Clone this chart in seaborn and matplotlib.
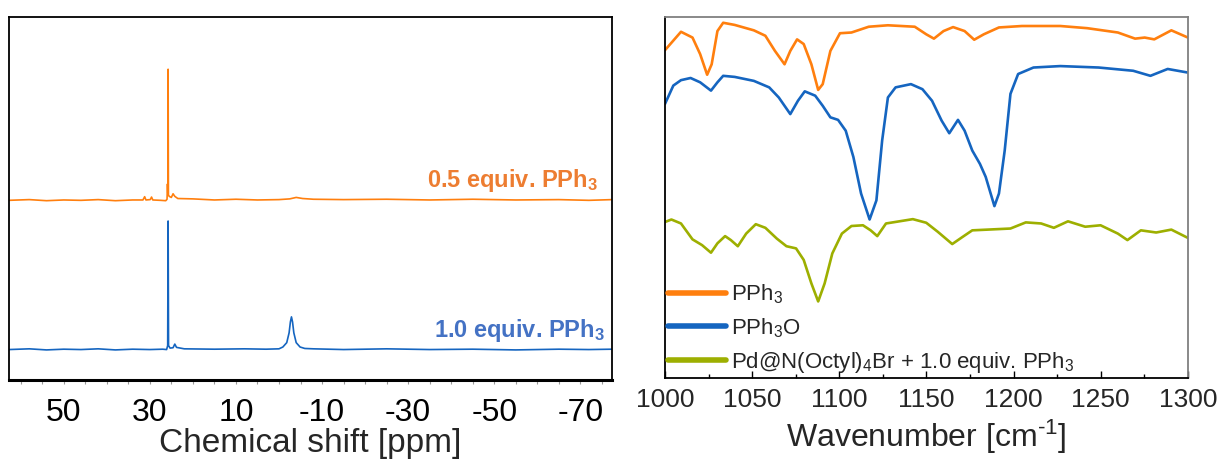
import matplotlib
matplotlib.use("Agg")
import matplotlib.pyplot as plt
import seaborn as sns
import pandas as pd
from matplotlib.ticker import MultipleLocator

# ---------------- data: 31P NMR (left) ----------------
ppm_05 = [62.7, 58, 54, 50, 46, 42, 38, 34, 31.6, 31.2, 30.9, 29.9, 29.6, 29.3, 27.5, 26.3, 26.0,
          25.9, 25.82, 25.75, 25.68, 25.5, 25.0, 24.6, 24.2, 23.5, 20, 15, 10, 5, 0, -2.5, -4,
          -5.5, -8, -15, -25, -35, -45, -55, -65, -72, -77.4]
int_05 = [49.5, 49.7, 49.4, 49.6, 49.5, 49.7, 49.4, 49.6, 49.6, 50.5, 49.6, 49.7, 50.4, 49.6, 49.5,
          49.4, 49.8, 54.0, 51.5, 85.6, 51.0, 50.6, 50.3, 51.3, 50.6, 50.0, 49.9, 49.6, 49.8, 49.6,
          49.7, 49.9, 50.3, 50.0, 49.8, 49.7, 49.8, 49.6, 49.8, 49.6, 49.7, 49.5, 49.7]
ppm_10 = [62.7, 58, 54, 50, 46, 42, 38, 34, 30, 27, 26.1, 25.85, 25.75, 25.65, 25.3, 24.6, 24.2,
          23.8, 22, 15, 8, 3, 0, -0.9, -1.8, -2.35, -2.65, -2.9, -3.15, -3.45, -4.0, -4.9, -6,
          -8, -15, -25, -35, -45, -55, -65, -72, -77.4]
int_10 = [8.4, 8.6, 8.3, 8.5, 8.4, 8.6, 8.3, 8.5, 8.4, 8.5, 8.4, 9.5, 43.8, 9.5, 8.8, 8.9, 9.9,
          9.0, 8.6, 8.5, 8.6, 8.5, 8.6, 9.1, 10.3, 13.0, 16.0, 17.4, 16.0, 13.0, 10.3, 9.1, 8.7,
          8.6, 8.4, 8.6, 8.4, 8.5, 8.3, 8.5, 8.4, 8.5]
nmr_ticks = [50, 30, 10, -10, -30, -50, -70]

# ---------------- data: IR (right) ----------------
wn_pph3 = [1000, 1009.2, 1015.8, 1020.2, 1024.2, 1026.8, 1030.1, 1033.4, 1040.0, 1051.0, 1057.6,
           1063.1, 1068.6, 1071.9, 1075.8, 1079.6, 1084.0, 1087.9, 1090.5, 1094.9, 1100.4, 1107.0,
           1116.9, 1127.9, 1143.3, 1149.9, 1154.3, 1159.8, 1165.3, 1171.9, 1177.4, 1182.9, 1191.6,
           1204.8, 1226.8, 1242.2, 1259.8, 1269.7, 1275.2, 1280.7, 1290.5, 1300]
t_pph3 = [90.8, 95.9, 94.3, 89.7, 84.0, 86.9, 96.1, 98.4, 97.8, 96.3, 94.8, 90.6, 86.9, 90.6, 93.8,
          92.5, 86.9, 79.8, 81.4, 90.6, 95.5, 95.7, 97.3, 97.7, 97.3, 95.2, 94.0, 96.1, 97.2, 96.1,
          93.7, 95.2, 97.1, 97.5, 97.5, 96.9, 95.7, 94.0, 94.3, 93.8, 96.3, 94.3]
wn_pph3o = [1000, 1004.8, 1009.2, 1014.7, 1020.2, 1026.4, 1030.1, 1033.4, 1040.0, 1051.0, 1059.8,
            1065.3, 1071.9, 1076.3, 1080.2, 1086.2, 1090.5, 1094.9, 1099.3, 1103.7, 1108.1, 1112.5,
            1117.4, 1121.3, 1124.6, 1127.9, 1132.3, 1141.1, 1147.7, 1153.2, 1158.7, 1163.1, 1168.1,
            1171.9, 1176.3, 1180.7, 1184.0, 1189.0, 1191.6, 1194.9, 1198.2, 1202.6, 1211.4, 1226.8,
            1248.8, 1268.6, 1278.5, 1288.4, 1300]
t_pph3o = [75.9, 81.0, 82.5, 83.1, 81.9, 79.6, 81.9, 83.7, 83.4, 82.3, 80.5, 77.7, 73.1, 76.8, 79.4,
           78.2, 75.4, 72.2, 71.5, 68.5, 61.2, 51.1, 43.9, 49.2, 65.8, 77.7, 80.5, 81.4, 80.0, 76.8,
           71.3, 67.8, 71.5, 68.5, 63.0, 59.3, 55.7, 47.6, 51.1, 63.0, 78.7, 84.2, 86.0, 86.4, 86.0,
           85.1, 83.7, 85.6, 84.6]
wn_pd = [1000, 1003.7, 1009.2, 1015.8, 1021.3, 1026.4, 1030.1, 1034.5, 1037.8, 1041.8, 1046.6,
         1052.1, 1057.6, 1064.2, 1069.7, 1075.2, 1079.6, 1084.0, 1087.9, 1091.6, 1096.0, 1101.5,
         1107.0, 1113.6, 1118.0, 1121.8, 1126.8, 1134.5, 1142.2, 1149.9, 1156.5, 1164.8, 1170.8,
         1176.3, 1185.1, 1198.2, 1207.0, 1215.8, 1223.1, 1231.2, 1241.1, 1249.9, 1259.8, 1265.3,
         1273.0, 1281.8, 1290.5, 1300]
t_pd = [43.2, 43.9, 42.8, 38.4, 36.8, 34.7, 37.3, 39.3, 38.2, 36.5, 40.0, 42.6, 41.6, 38.6, 36.5,
        35.9, 32.7, 26.2, 21.2, 26.2, 34.5, 40.0, 42.1, 42.3, 40.9, 39.3, 42.8, 43.4, 44.0, 43.0,
        40.5, 37.1, 39.1, 40.9, 41.1, 41.4, 43.1, 42.8, 41.6, 43.4, 41.9, 42.3, 40.0, 38.2, 40.9,
        40.3, 41.1, 38.8]
ir_labels = ["PPh$_3$", "PPh$_3$O", "Pd@N(Octyl)$_4$Br + 1.0 equiv. PPh$_3$"]
ir_ticks = [1000, 1050, 1100, 1150, 1200, 1250, 1300]

# ---------------- style ----------------
sns.set_theme(style="white")
plt.rcParams["font.family"] = ["Liberation Sans", "DejaVu Sans"]
plt.rcParams["mathtext.fontset"] = "custom"
plt.rcParams["mathtext.rm"] = "Liberation Sans"
plt.rcParams["mathtext.it"] = "Liberation Sans:italic"
plt.rcParams["mathtext.bf"] = "Liberation Sans:bold"

C_OR = "#FF7F0E"
C_BL = "#1565C0"
C_GR = "#9DAF00"

fig = plt.figure(figsize=(12.21, 4.59), dpi=100)
axL = fig.add_axes([0.0074, 0.172, 0.494, 0.791])
axR = fig.add_axes([0.5446, 0.1765, 0.4283, 0.7865])

# ---- left: NMR ----
dfa = pd.DataFrame({"ppm": ppm_05, "I": int_05})
dfb = pd.DataFrame({"ppm": ppm_10, "I": int_10})
sns.lineplot(data=dfa, x="ppm", y="I", ax=axL, color=C_OR, lw=1.2, estimator=None, sort=False)
sns.lineplot(data=dfb, x="ppm", y="I", ax=axL, color=C_BL, lw=1.2, estimator=None, sort=False)
axL.set_xlim(62.7, -77.4)
axL.set_ylim(0, 100)
axL.set_yticks([])
axL.set_ylabel("")
axL.set_xticks(nmr_ticks)
axL.set_xticklabels([str(t) for t in nmr_ticks])
axL.xaxis.set_minor_locator(MultipleLocator(5))
axL.tick_params(axis="x", which="both", direction="out", bottom=True, length=3, width=0.8,
                color="#999999", labelsize=23, pad=10, labelcolor="black")
axL.set_xlabel("Chemical shift [ppm]", fontsize=24, labelpad=0)
for s in ["left", "right", "top"]:
    axL.spines[s].set_color("black")
    axL.spines[s].set_linewidth(1.3)
axL.spines["bottom"].set_color("black")
axL.spines["bottom"].set_linewidth(2.2)
axL.text(0.977, 0.532, r"0.5 equiv. PPh$_\mathbf{3}$", transform=axL.transAxes, ha="right",
         va="baseline", color="#ED7D31", fontsize=17, fontweight="bold")
axL.text(0.988, 0.119, r"1.0 equiv. PPh$_\mathbf{3}$", transform=axL.transAxes, ha="right",
         va="baseline", color="#4472C4", fontsize=17, fontweight="bold")

# ---- right: IR ----
series = [(wn_pph3, t_pph3, C_OR), (wn_pph3o, t_pph3o, C_BL), (wn_pd, t_pd, C_GR)]
for (wn, t, c), lab in zip(series, ir_labels):
    d = pd.DataFrame({"wn": wn, "T": t})
    sns.lineplot(data=d, x="wn", y="T", ax=axR, color=c, lw=1.9, estimator=None, sort=False,
                 label=lab, solid_joinstyle="round")
axR.set_xlim(1000, 1300)
axR.set_ylim(0, 100)
axR.set_yticks([])
axR.set_ylabel("")
axR.set_xticks(ir_ticks)
axR.xaxis.set_minor_locator(MultipleLocator(25))
axR.tick_params(axis="x", which="major", direction="in", bottom=True, length=5, width=1,
                labelsize=19, pad=7, color="black")
axR.tick_params(axis="x", which="minor", direction="in", bottom=True, length=3, width=1,
                color="black")
axR.set_xlabel(r"Wavenumber [cm$^{\text{-}1}$]", fontsize=23, labelpad=4)
axR.spines["left"].set_color("black")
axR.spines["bottom"].set_color("black")
axR.spines["top"].set_color("#808080")
axR.spines["right"].set_color("#808080")
for s in axR.spines.values():
    s.set_linewidth(1.3)
leg = axR.legend(loc="lower left", bbox_to_anchor=(0.0, 0.0), borderaxespad=0, borderpad=0.15,
                 frameon=False, fontsize=16, handlelength=2.6, handletextpad=0.2,
                 labelspacing=0.45)
for ln in leg.get_lines():
    ln.set_linewidth(4)

fig.savefig("out.png", dpi=100)
